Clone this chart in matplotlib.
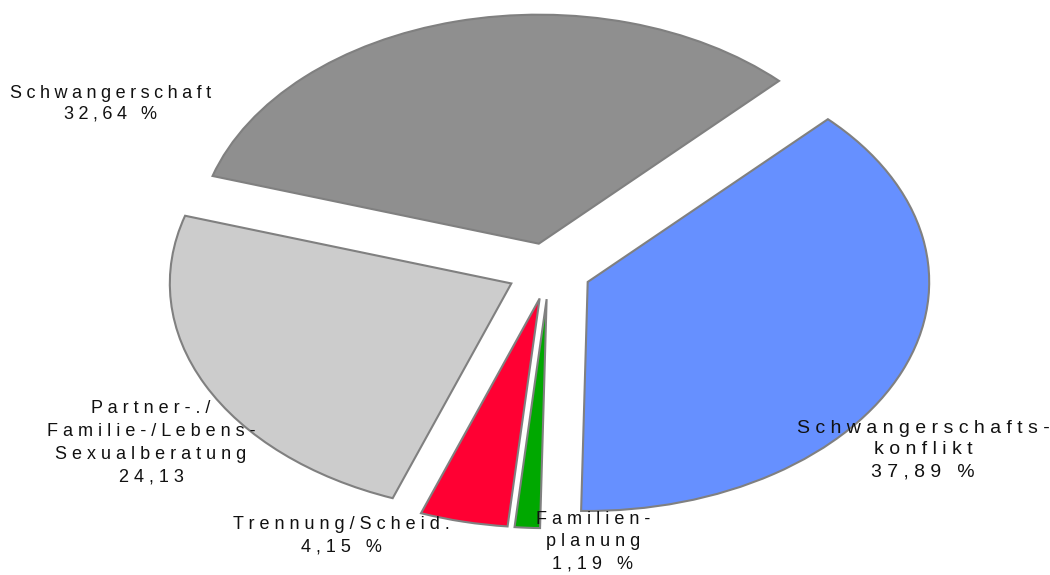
import matplotlib
matplotlib.use('Agg')
import matplotlib.pyplot as plt

# data (clockwise from upper right)
labels = ['Schwangerschafts-\nkonflikt\n37,89 %',
          'Familien-\nplanung\n1,19 %',
          'Trennung/Scheid.\n4,15 %',
          'Partner-./\nFamilie-/Lebens-\nSexualberatung\n24,13',
          'Schwangerschaft\n32,64 %']
shares = [37.89, 1.19, 4.15, 24.13, 32.64]
colors = ['#6690ff', '#00a800', '#ff0033', '#cccccc', '#8f8f8f']

# label anchor (x, y from top, in px), font size, letter gap, line spacing
label_pos = [(923, 450), (593, 542), (341, 536), (151, 443), (111, 104)]
label_size = [14, 13, 13, 13, 13]
label_gap = [' ', ' ', ' ', ' ', '\u2005']
label_lsp = [1.35, 1.4, 1.45, 1.45, 1.3]

plt.rcParams['font.family'] = ['Liberation Sans', 'DejaVu Sans']


def spaced(s, gap):
    # letter-spaced look of the original
    return '\n'.join(gap.join(line) for line in s.split('\n'))


W, H = 1050, 575
cx, cy, rx, ry = 549, 271, 341.5, 229

fig = plt.figure(figsize=(W / 100, H / 100), dpi=100)
ax = fig.add_axes([0, 0, 1, 1])
ax.pie(shares, colors=colors, startangle=45.3, counterclock=False,
       explode=[0.123] * len(shares),
       wedgeprops=dict(edgecolor='#808080', linewidth=1.5))
ax.set_aspect('auto')
ax.set_xlim(-cx / rx, (W - cx) / rx)
ax.set_ylim(-(H - cy) / ry, cy / ry)
ax.axis('off')

for i, lab in enumerate(labels):
    px, py = label_pos[i]
    fig.text(px / W, 1 - py / H, spaced(lab, label_gap[i]), ha='center',
             va='center', fontsize=label_size[i], linespacing=label_lsp[i],
             color='#111111')

fig.savefig('out.png', dpi=100)
